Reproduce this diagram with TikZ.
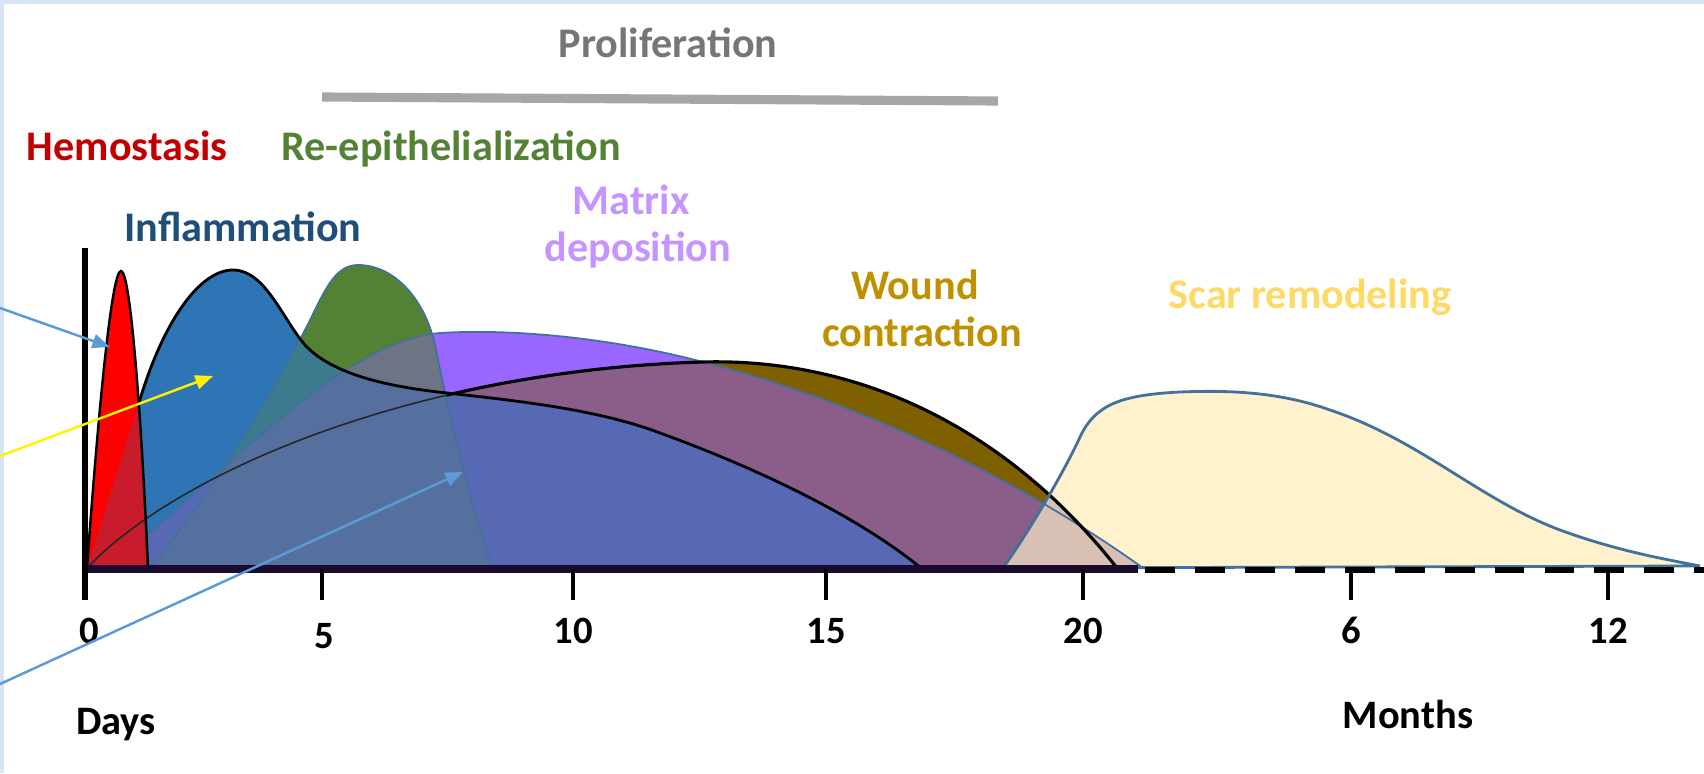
\documentclass[tikz,border=0pt]{standalone}
\usepackage{fontspec}
\setmainfont{Carlito}
\usetikzlibrary{arrows.meta}

\definecolor{inflblue}{HTML}{2E75B6}
\definecolor{epigreen}{HTML}{548235}
\definecolor{matpurple}{HTML}{9966FF}
\definecolor{woundbrown}{HTML}{7F6000}
\definecolor{scarcream}{HTML}{FFF2CC}
\definecolor{mixmauve}{HTML}{8B5E8A}
\definecolor{mixgray}{HTML}{6D7585}
\definecolor{mixviolet}{HTML}{5769B4}
\definecolor{mixteal}{HTML}{3B7B8D}
\definecolor{mixslate}{HTML}{55709E}
\definecolor{mixscar}{HTML}{D9C0B5}
\definecolor{mixcrimson}{HTML}{C81B2C}
\definecolor{edgeblue}{HTML}{41719C}
\definecolor{arrowblue}{HTML}{5B9BD5}
\definecolor{framblue}{HTML}{D6E4F3}
\definecolor{txthemo}{HTML}{C00000}
\definecolor{txtinfl}{HTML}{1F4E79}
\definecolor{txtmatrix}{HTML}{C495FF}
\definecolor{txtwound}{HTML}{BF9000}
\definecolor{txtscar}{HTML}{FFD966}
\definecolor{txtprolif}{HTML}{767676}
\definecolor{bargray}{HTML}{A6A6A6}
\definecolor{axisdark}{HTML}{1A0B2E}

\def\hemopath{(87,568) .. controls (97,430) and (111,271) .. (121,271) .. controls (131,271) and (142,430) .. (148,568) -- cycle}
\def\inflpath{(87,568) -- (142,393) .. controls (165,320) and (200,270) .. (233,270) .. controls (265,270) and (282,318) .. (305,345) .. controls (330,372) and (380,386) .. (447,393) .. controls (520,401) and (600,410) .. (660,433) .. controls (740,462) and (850,510) .. (921,568) -- cycle}
\def\epipath{(150,568) .. controls (230,470) and (285,370) .. (310,320) .. controls (325,290) and (335,265) .. (358,265) .. controls (395,265) and (425,300) .. (435,345) .. controls (450,420) and (470,500) .. (492,568) -- cycle}
\def\matpath{(110,568) .. controls (250,447) and (350,340) .. (440,333) .. controls (520,328) and (620,340) .. (703,362) .. controls (815,390) and (985,455) .. (1143,568) -- cycle}
\def\woundpath{(87,568) .. controls (180,470) and (420,370) .. (703,362) .. controls (850,358) and (1000,420) .. (1117,568) -- cycle}
\def\scarpath{(1003,568) .. controls (1030,530) and (1065,470) .. (1080,437) .. controls (1095,405) and (1120,395) .. (1180,392) .. controls (1230,390) and (1280,392) .. (1330,410) .. controls (1420,440) and (1480,500) .. (1560,530) .. controls (1620,552) and (1670,560) .. (1700,566) -- cycle}

\tikzset{
  phase/.style={font=\fontsize{12}{14}\selectfont\bfseries, inner sep=0pt, anchor=base},
  ticklabel/.style={font=\fontsize{11}{13}\selectfont\bfseries, inner sep=0pt, anchor=base},
  axistick/.style={line width=1.4pt, black},
  pointer/.style={line width=0.7pt, -{Triangle[length=5pt,width=4pt]}}
}

\begin{document}
\begin{tikzpicture}[x=0.01cm,y=-0.01cm]
  \useasboundingbox (0,0) rectangle (1704,773);
  \fill[framblue] (0,0) rectangle (1704,4);
  \fill[framblue] (0,0) rectangle (4,773);

  \fill[woundbrown] \woundpath;
  \fill[matpurple] \matpath;
  \begin{scope}
    \clip \matpath;
    \fill[mixmauve] \woundpath;
  \end{scope}
  \fill[epigreen] \epipath;
  \begin{scope}
    \clip \epipath;
    \fill[mixgray] \matpath;
  \end{scope}
  \fill[inflblue] \inflpath;
  \begin{scope}
    \clip \inflpath;
    \fill[mixviolet] \matpath;
    \fill[mixteal] \epipath;
    \clip \matpath;
    \fill[mixslate] \epipath;
  \end{scope}
  \fill[scarcream] \scarpath;
  \begin{scope}
    \clip \scarpath;
    \fill[mixscar] \matpath;
    \fill[mixscar] \woundpath;
  \end{scope}

  \draw[edgeblue, line width=0.5pt] \epipath;
  \draw[edgeblue, line width=0.5pt] \matpath;
  \draw[black!85, line width=0.45pt] \woundpath;
  \begin{scope}
    \clip (447,0) rectangle (1704,566);
    \draw[black, line width=0.9pt] \woundpath;
  \end{scope}
  \draw[black, line width=0.8pt] \inflpath;
  \draw[edgeblue, line width=0.8pt] \scarpath;
  \fill[red] \hemopath;
  \begin{scope}
    \clip \hemopath;
    \fill[mixcrimson] \inflpath;
    \fill[mixcrimson] \matpath;
    \draw[black!85, line width=0.45pt] \woundpath;
  \end{scope}
  \draw[black, line width=0.7pt] \hemopath;

  \draw[axisdark, line width=2pt] (85,569) -- (1138,569);
  \draw[black, line width=1.8pt, dash pattern=on 8.5pt off 5.7pt] (1145,570) -- (1704,570);
  \draw[black, line width=1.5pt] (85,248) -- (85,600);
  \draw[axistick] (322,569) -- (322,600);
  \draw[axistick] (573,569) -- (573,600);
  \draw[axistick] (826,569) -- (826,600);
  \draw[axistick] (1083,569) -- (1083,600);
  \draw[axistick] (1351,569) -- (1351,600);
  \draw[axistick] (1608,569) -- (1608,600);

  \node[ticklabel] (d_0) at (89,643) {0};
  \node[ticklabel] (d_5) at (324,648) {5};
  \node[ticklabel] (d_10) at (573,643) {10};
  \node[ticklabel] (d_15) at (826,643) {15};
  \node[ticklabel] (d_20) at (1083,643) {20};
  \node[ticklabel] (m_6) at (1351,643) {6};
  \node[ticklabel] (m_12) at (1608,643) {12};
  \node[ticklabel, font=\fontsize{11.5}{13}\selectfont\bfseries] (days) at (116,734) {Days};
  \node[ticklabel, font=\fontsize{11.5}{13}\selectfont\bfseries] (months) at (1408,728) {Months};

  \draw[bargray, line width=2.6pt] (322,97) -- (998,101);
  \node[phase, text=txtprolif] (prolif) at (668,58) {Proliferation};
  \node[phase, text=txthemo] (hemo) at (127,160) {Hemostasis};
  \node[phase, text=epigreen] (reepi) at (451,160) {Re-epithelialization};
  \node[phase, text=txtinfl] (infl) at (243,241) {Inflammation};
  \node[phase, text=txtmatrix] (matrix) at (631,214) {Matrix};
  \node[phase, text=txtmatrix] (depo) at (638,261) {deposition};
  \node[phase, text=txtwound] (wound) at (915,299) {Wound};
  \node[phase, text=txtwound] (contr) at (922,346) {contraction};
  \node[phase, text=txtscar] (scar) at (1310,308) {Scar remodeling};

  \coordinate (src_1) at (0,308);
  \coordinate (src_2) at (0,456);
  \coordinate (src_3) at (0,684);
  \coordinate (hit_1) at (110,347);
  \coordinate (hit_2) at (213,376);
  \coordinate (hit_3) at (463,472);
  \draw[pointer, arrowblue] (src_1) -- (hit_1);
  \draw[pointer, yellow] (src_2) -- (hit_2);
  \draw[pointer, arrowblue] (src_3) -- (hit_3);
\end{tikzpicture}
\end{document}
